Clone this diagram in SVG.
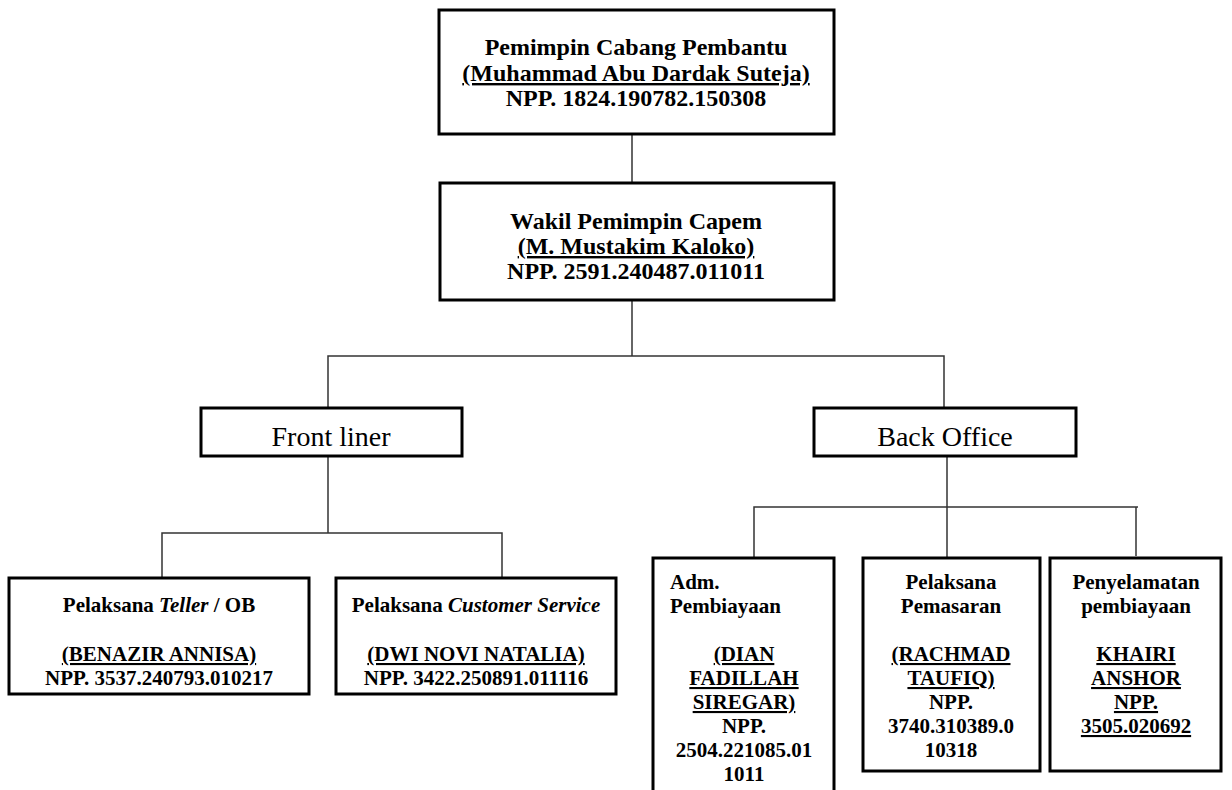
<svg xmlns="http://www.w3.org/2000/svg" width="1232" height="790" viewBox="0 0 1232 790">
<style>
text{font-family:"Liberation Serif","Times New Roman",serif;fill:#000}
.box{fill:#fff;stroke:#000;stroke-width:3}
.t1{font-size:24px;font-weight:bold;text-anchor:middle}
.t2{font-size:21px;font-weight:bold;text-anchor:middle}
.tl{font-size:21px;font-weight:bold}
.t3{font-size:28px;text-anchor:middle}
.u{text-decoration:underline}
.i{font-style:italic}
.con{fill:none;stroke:#333;stroke-width:1.5}
</style>
<rect width="1232" height="790" fill="#fff"/>
<g id="connectors">
<line class="con" x1="632" y1="134" x2="632" y2="183"/>
<line class="con" x1="632" y1="300" x2="632" y2="356"/>
<polyline class="con" points="328,408 328,356 944,356 944,408"/>
<line class="con" x1="328" y1="456" x2="328" y2="533"/>
<polyline class="con" points="162,578 162,533 502,533 502,578"/>
<line class="con" x1="947" y1="456" x2="947" y2="558"/>
<polyline class="con" points="754,558 754,507 1138,507"/>
<line class="con" x1="1136" y1="507" x2="1136" y2="556"/>
</g>
<g id="pemimpin">
<rect class="box" x="439" y="10" width="395" height="124"/>
<text class="t1" x="636" y="55">Pemimpin Cabang Pembantu</text>
<text class="t1 u" x="636" y="81">(Muhammad Abu Dardak Suteja)</text>
<text class="t1" x="636" y="106">NPP. 1824.190782.150308</text>
</g>
<g id="wakil">
<rect class="box" x="440" y="183" width="394" height="117"/>
<text class="t1" x="636" y="229">Wakil Pemimpin Capem</text>
<text class="t1 u" x="636" y="254">(M. Mustakim Kaloko)</text>
<text class="t1" x="636" y="279">NPP. 2591.240487.011011</text>
</g>
<g id="frontliner">
<rect class="box" x="201" y="408" width="261" height="48"/>
<text class="t3" x="331" y="446">Front liner</text>
</g>
<g id="backoffice">
<rect class="box" x="814" y="408" width="262" height="48"/>
<text class="t3" x="945" y="446">Back Office</text>
</g>
<g id="teller">
<rect class="box" x="9" y="578" width="300" height="116"/>
<text class="t2" x="159" y="612">Pelaksana <tspan class="i">Teller</tspan> / OB</text>
<text class="t2 u" x="159" y="661">(BENAZIR ANNISA)</text>
<text class="t2" x="159" y="685">NPP. 3537.240793.010217</text>
</g>
<g id="cs">
<rect class="box" x="336" y="578" width="280" height="116"/>
<text class="t2" x="476" y="612">Pelaksana <tspan class="i">Customer Service</tspan></text>
<text class="t2 u" x="476" y="661">(DWI NOVI NATALIA)</text>
<text class="t2" x="476" y="685">NPP. 3422.250891.011116</text>
</g>
<g id="adm">
<rect class="box" x="653" y="558" width="181" height="250"/>
<text class="tl" x="670" y="589">Adm.</text>
<text class="tl" x="670" y="613">Pembiayaan</text>
<text class="t2 u" x="744" y="661">(DIAN</text>
<text class="t2 u" x="744" y="685">FADILLAH</text>
<text class="t2 u" x="744" y="709">SIREGAR)</text>
<text class="t2" x="744" y="733">NPP.</text>
<text class="t2" x="744" y="757">2504.221085.01</text>
<text class="t2" x="744" y="781">1011</text>
</g>
<g id="pemasaran">
<rect class="box" x="863" y="558" width="177" height="213"/>
<text class="t2" x="951" y="589">Pelaksana</text>
<text class="t2" x="951" y="613">Pemasaran</text>
<text class="t2 u" x="951" y="661">(RACHMAD</text>
<text class="t2 u" x="951" y="685">TAUFIQ)</text>
<text class="t2" x="951" y="709">NPP.</text>
<text class="t2" x="951" y="733">3740.310389.0</text>
<text class="t2" x="951" y="757">10318</text>
</g>
<g id="penyelamatan">
<rect class="box" x="1050" y="558" width="171" height="213"/>
<text class="t2" x="1136" y="589">Penyelamatan</text>
<text class="t2" x="1136" y="613">pembiayaan</text>
<text class="t2 u" x="1136" y="661">KHAIRI</text>
<text class="t2 u" x="1136" y="685">ANSHOR</text>
<text class="t2 u" x="1136" y="709">NPP.</text>
<text class="t2 u" x="1136" y="733">3505.020692</text>
</g>
</svg>
